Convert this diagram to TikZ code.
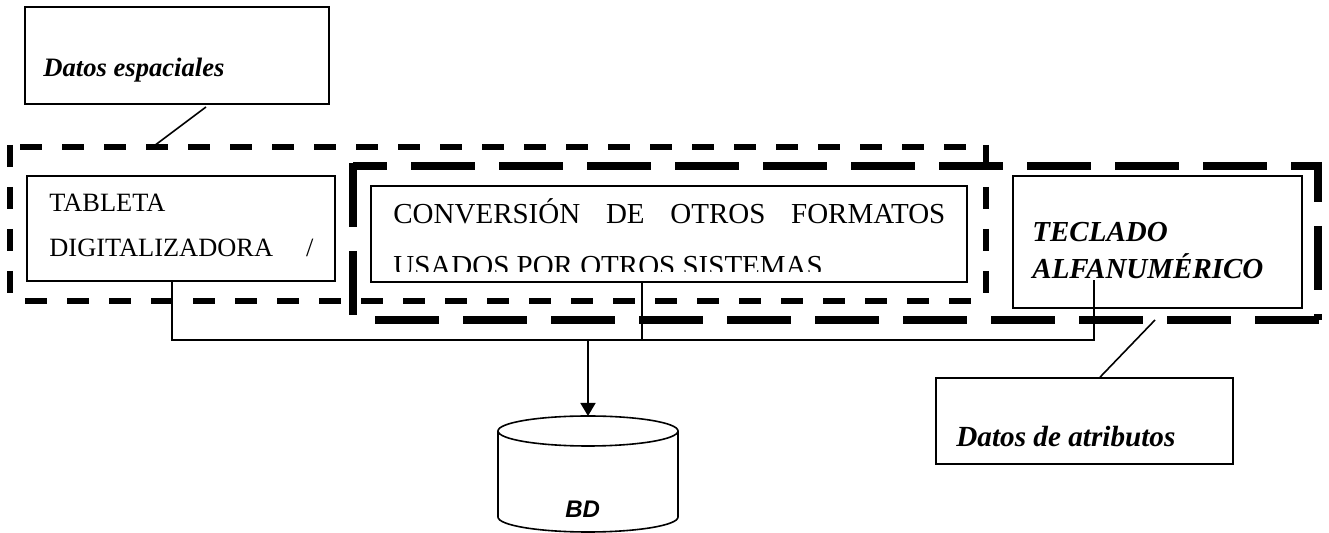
\documentclass[tikz,border=0pt]{standalone}
\usepackage{fontspec}
\setmainfont{Liberation Serif}
\newfontfamily\arialfont{Liberation Sans}
\usetikzlibrary{arrows.meta}

\begin{document}
\begin{tikzpicture}[x=0.5pt,y=-0.5pt,
  box/.style={draw, line width=0.8pt, inner sep=0pt, fill=white},
  txt/.style={inner sep=0pt, anchor=base west},
  wire/.style={line width=0.8pt},
  grpthin/.style={line width=3pt, dash pattern=on 11pt off 10pt},
  grpthick/.style={line width=4pt, dash pattern=on 32pt off 12pt},
  fbi/.style={font=\fontsize{#1}{#1}\selectfont\bfseries\itshape},
  frm/.style={font=\fontsize{#1}{#1}\selectfont},
]
\useasboundingbox (0,0) rectangle (1329,533);

% spatial-data group (thin dashes)
\draw[grpthin, dash phase=16pt]   (10,147) -- (986,147);
\draw[grpthin]                    (10,145) -- (10,301);
\draw[grpthin, dash phase=13.5pt] (10,301) -- (986,301);
\draw[grpthin]                    (986,145) -- (986,301);

% second group (heavy dashes)
\draw[grpthick]                 (353,163) -- (353,320);
\draw[grpthick, dash phase=15pt] (353,166) -- (1318,166);
\draw[grpthick, dash phase=33pt] (353,320) -- (1322,320);
\draw[grpthick, dash phase=12pt] (1318,162) -- (1318,320);

% boxes
\node[box, minimum width=152pt, minimum height=48.5pt] (de)   at (177,55.5) {};
\node[box, minimum width=154pt, minimum height=52.5pt] (tab)  at (181,228.5) {};
\node[box, minimum width=298pt, minimum height=48pt]   (conv) at (669,234) {};
\node[box, minimum width=144.5pt, minimum height=66pt] (tec)  at (1157.5,242) {};
\node[box, minimum width=148.5pt, minimum height=43pt] (da)   at (1084.5,421) {};

% texts
\node[txt, fbi=13.3] (de-t) at (43,77) {Datos espaciales};
\node[txt, frm=13.2] (tab1) at (49,212) {TABLETA};
\node[txt, frm=13.2] (tab2) at (49,257) {\makebox[132pt][s]{DIGITALIZADORA /}};
\node[txt, frm=14.5] (conv1) at (393,224) {\makebox[276pt][s]{CONVERSIÓN DE OTROS FORMATOS}};
\begin{scope}
  \clip (371,186) rectangle (967,272);
  \node[txt, frm=14.5] (conv2) at (393,276) {USADOS POR OTROS SISTEMAS};
\end{scope}
\node[txt, fbi=14.5] (tec1) at (1032,242) {TECLADO};
\node[txt, fbi=14.5] (alf)  at (1032,279) {ALFANUMÉRICO};
\node[txt, fbi=14.6] (da-t) at (956,447) {Datos de atributos};

% leader lines
\coordinate (l1a) at (206,107);
\coordinate (l1b) at (154,146);
\draw[wire] (l1a) -- (l1b);
\coordinate (l2a) at (1100,378);
\coordinate (l2b) at (1155,320);
\draw[wire] (da.north -| l2a) -- (l2b);

% database cylinder
\coordinate (dbtop) at (588,416);
\draw[wire] (498,431) -- (498,517)
  arc[start angle=180, end angle=360, x radius=45pt, y radius=7.5pt] -- (678,431);
\draw[wire] (588,431) ellipse [x radius=45pt, y radius=7.5pt];
\node[txt, font=\arialfont\fontsize{12}{12}\selectfont\bfseries\itshape] (bd) at (565,518) {BD};

% connectors
\coordinate (j1) at (172,340);
\coordinate (j2) at (642,340);
\coordinate (j3) at (1094,340);
\coordinate (ja) at (588,340);
\draw[wire] (tab.south -| j1) -- (j1) -- (j3) -- (alf.south -| j3);
\draw[wire] (conv.south -| j2) -- (j2);
\draw[wire, -{Triangle[length=6.5pt, width=7.5pt]}] (ja) -- (dbtop);
\end{tikzpicture}
\end{document}
